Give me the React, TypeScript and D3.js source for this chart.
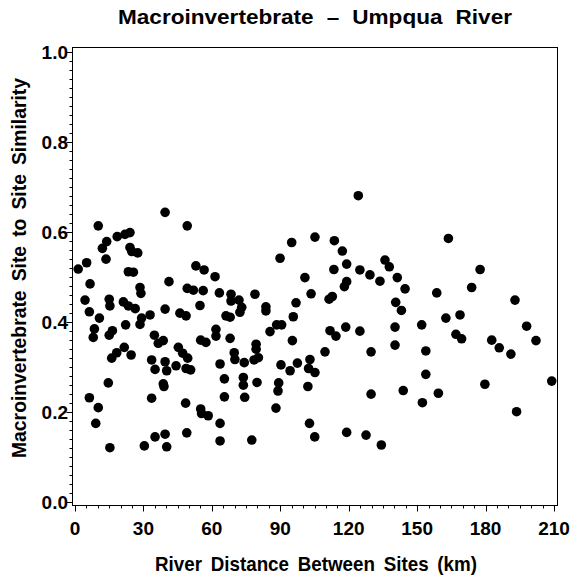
import React from "react";
import * as d3 from "d3";

const distance = [
  10.2, 13.9, 12.0, 18.5, 21.9, 24.1, 24.1, 24.9, 27.5, 13.6, 5.1, 1.4, 23.4, 25.6, 6.6, 28.5, 28.9, 4.4, 15.0, 15.3,
  21.2, 23.4, 26.4, 6.3, 10.7, 39.5, 49.2, 41.2, 49.2, 39.5, 32.9, 29.2, 46.0, 8.5, 8.0, 22.2, 16.4, 15.0, 28.5, 34.8,
  36.5, 38.7, 21.6, 18.3, 16.1, 24.6, 33.6, 35.1, 39.5, 40.2, 44.3, 48.7, 45.3, 47.2, 49.4, 14.6, 38.7, 39.0, 6.3, 10.2,
  9.1, 33.6, 48.5, 49.0, 15.3, 30.4, 35.1, 39.5, 40.2, 48.7, 95.0, 89.9, 100.8, 53.0, 56.6, 61.4, 51.9, 56.2, 63.3, 68.4,
  68.4, 71.9, 78.9, 73.1, 72.3, 83.7, 83.7, 54.8, 96.9, 103.5, 66.2, 68.0, 95.7, 61.8, 61.8, 55.1, 57.4, 68.0, 85.5, 88.4,
  90.6, 95.3, 50.7, 63.6, 69.8, 70.1, 74.2, 79.4, 79.4, 78.5, 80.4, 90.3, 94.3, 97.5, 103.0, 102.4, 65.5, 73.8, 73.8, 79.8,
  89.3, 89.0, 65.5, 74.4, 102.1, 55.1, 55.5, 58.4, 88.1, 63.6, 102.8, 63.6, 77.5, 124.2, 105.2, 113.7, 117.2, 119.1, 113.5, 124.9,
  129.3, 133.7, 135.9, 137.8, 141.3, 144.7, 119.1, 118.1, 112.8, 111.4, 140.6, 143.1, 111.8, 114.4, 118.7, 124.9, 140.3, 152.0,
  109.6, 129.8, 140.3, 153.8, 105.2, 129.8, 143.9, 153.8, 152.3, 105.1, 119.1, 127.6, 134.3, 163.7, 177.6, 173.9, 158.6, 192.9,
  162.6, 168.8, 167.0, 169.5, 182.7, 186.0, 191.1, 198.0, 202.1, 159.3, 179.7, 209.0, 193.6,
];

const similarity = [
  0.613, 0.578, 0.563, 0.589, 0.594, 0.598, 0.565, 0.556, 0.553, 0.539, 0.531, 0.517, 0.511, 0.51, 0.484, 0.476, 0.463, 0.448, 0.45, 0.435,
  0.444, 0.435, 0.429, 0.422, 0.408, 0.643, 0.613, 0.489, 0.474, 0.428, 0.415, 0.408, 0.419, 0.384, 0.365, 0.393, 0.38, 0.37, 0.394, 0.37,
  0.352, 0.358, 0.343, 0.331, 0.319, 0.326, 0.315, 0.294, 0.311, 0.291, 0.302, 0.296, 0.343, 0.33, 0.319, 0.264, 0.262, 0.256, 0.231, 0.209,
  0.174, 0.23, 0.219, 0.153, 0.12, 0.124, 0.144, 0.15, 0.122, 0.413, 0.576, 0.541, 0.498, 0.524, 0.515, 0.5, 0.47, 0.469, 0.464, 0.461,
  0.446, 0.448, 0.461, 0.432, 0.421, 0.433, 0.424, 0.436, 0.442, 0.462, 0.413, 0.41, 0.411, 0.383, 0.368, 0.359, 0.354, 0.363, 0.378, 0.393,
  0.393, 0.358, 0.293, 0.306, 0.331, 0.316, 0.309, 0.35, 0.339, 0.315, 0.32, 0.304, 0.291, 0.308, 0.316, 0.296, 0.273, 0.276, 0.259, 0.265,
  0.264, 0.246, 0.233, 0.232, 0.256, 0.206, 0.196, 0.191, 0.208, 0.174, 0.174, 0.135, 0.137, 0.68, 0.588, 0.58, 0.557, 0.528, 0.516, 0.515,
  0.504, 0.49, 0.537, 0.522, 0.498, 0.473, 0.489, 0.478, 0.456, 0.45, 0.443, 0.425, 0.38, 0.368, 0.388, 0.379, 0.388, 0.393,
  0.333, 0.333, 0.348, 0.335, 0.287, 0.239, 0.247, 0.283, 0.22, 0.144, 0.154, 0.148, 0.126, 0.585, 0.516, 0.476, 0.464, 0.448,
  0.408, 0.415, 0.372, 0.362, 0.359, 0.342, 0.328, 0.39, 0.358, 0.241, 0.261, 0.268, 0.2,
];

const xTicks = [0, 30, 60, 90, 120, 150, 180, 210];
const yTicks = [0.0, 0.2, 0.4, 0.6, 0.8, 1.0];
const titleText = "Macroinvertebrate \u2013 Umpqua River";
const xLabel = "River Distance Between Sites (km)";
const yLabel = "Macroinvertebrate Site to Site Similarity";

const W = 571;
const H = 576;
const FONT = "'Liberation Sans', Arial, Helvetica, sans-serif";

export default function App() {
  const frame = { left: 72, top: 47, right: 557, bottom: 505 };
  const x = d3.scaleLinear().domain([0, 210]).range([75, 554]);
  const y = d3.scaleLinear().domain([0, 1]).range([501.7, 51.7]);
  const xMinor = d3.range(0, 210.001, 5);
  const yMinor = d3.range(0, 1.0001, 0.02);

  return (
    <svg width={W} height={H} style={{ position: "absolute", left: 0, top: 0, background: "#fff" }} fontFamily={FONT}>
      <rect x={0} y={0} width={W} height={H} fill="#fff" />
      <text
        x={315}
        y={24}
        textAnchor="middle"
        fontSize={20}
        fontWeight="bold"
        wordSpacing={6}
        textLength={394}
        lengthAdjust="spacingAndGlyphs"
        fill="#000"
      >
        {titleText}
      </text>
      <rect
        x={frame.left + 0.5}
        y={frame.top + 0.5}
        width={frame.right - frame.left}
        height={frame.bottom - frame.top}
        fill="none"
        stroke="#000"
        strokeWidth={1}
      />
      {xMinor.map((v, i) => {
        const major = Math.abs(v % 30) < 1e-6;
        const px = Math.round(x(v)) + 0.5;
        return (
          <line key={"xm" + i} x1={px} x2={px} y1={frame.bottom + 0.5} y2={frame.bottom + 0.5 + (major ? 6 : 3)} stroke="#000" />
        );
      })}
      {yMinor.map((v, i) => {
        const major = Math.abs((v * 10) % 2) < 1e-6 || Math.abs((v * 10) % 2 - 2) < 1e-6;
        const py = Math.round(y(v)) + 0.5;
        return (
          <line key={"ym" + i} x1={frame.left + 0.5} x2={frame.left + 0.5 - (major ? 6 : 3)} y1={py} y2={py} stroke="#000" />
        );
      })}
      {xTicks.map((v) => (
        <text key={"xt" + v} x={x(v)} y={535} textAnchor="middle" fontSize={19} fontWeight="bold" fill="#000">
          {v}
        </text>
      ))}
      {yTicks.map((v) => (
        <text key={"yt" + v} x={68} y={y(v) + 7} textAnchor="end" fontSize={19} fontWeight="bold" fill="#000">
          {v.toFixed(1)}
        </text>
      ))}
      <text
        x={316}
        y={571}
        textAnchor="middle"
        fontSize={21}
        fontWeight="bold"
        wordSpacing={4}
        textLength={322}
        lengthAdjust="spacingAndGlyphs"
        fill="#000"
      >
        {xLabel}
      </text>
      <text
        transform={`translate(26,${268}) rotate(-90)`}
        textAnchor="middle"
        fontSize={21}
        fontWeight="bold"
        wordSpacing={4}
        textLength={380}
        lengthAdjust="spacingAndGlyphs"
        fill="#000"
      >
        {yLabel}
      </text>
      {distance.map((d, i) => (
        <circle key={"p" + i} cx={x(d)} cy={y(similarity[i])} r={4.8} fill="#000" />
      ))}
    </svg>
  );
}
